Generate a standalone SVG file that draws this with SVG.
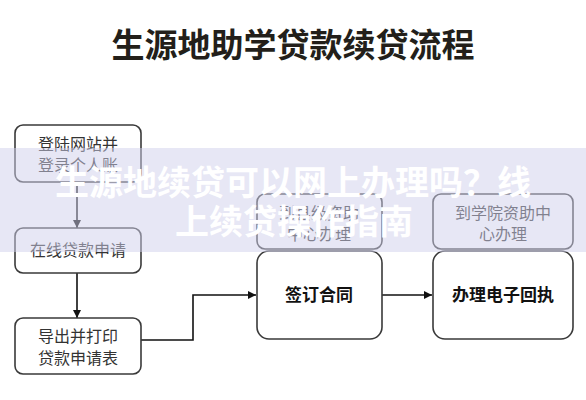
<svg xmlns="http://www.w3.org/2000/svg" width="586" height="400" viewBox="0 0 586 400">
<defs>
<marker id="ah" viewBox="0 0 10 10" refX="10" refY="5" markerWidth="8" markerHeight="8" markerUnits="userSpaceOnUse" orient="auto">
<path d="M0,0 L10,5 L0,10 z" fill="#111"/>
</marker>
<style>
.box{fill:#fff;stroke:#3a3a3a;stroke-width:1.6}
.t{font-family:"Noto Sans CJK SC","Noto Sans",sans-serif;font-size:16px;fill:#333;text-anchor:middle}
.tb{font-family:"Noto Sans CJK SC","Noto Sans",sans-serif;font-size:17px;font-weight:bold;fill:#111;text-anchor:middle}
.ln{fill:none;stroke:#111;stroke-width:1.6}
.ov{font-family:"Noto Sans CJK SC","Noto Sans",sans-serif;font-size:34px;font-weight:bold;fill:#fff;text-anchor:middle}
</style>
</defs>
<rect width="586" height="400" fill="#fff"/>
<text x="293" y="57" font-family="'Noto Sans CJK SC','Noto Sans',sans-serif" font-size="33" font-weight="bold" fill="#231f1a" text-anchor="middle">生源地助学贷款续贷流程</text>

<g id="connectors">
<line class="ln" x1="77" y1="183" x2="77" y2="228" marker-end="url(#ah)"/>
<line class="ln" x1="77" y1="273" x2="77" y2="318" marker-end="url(#ah)"/>
<polyline class="ln" points="141,340 193,340 193,295 256,295" marker-end="url(#ah)"/>
<line class="ln" x1="382" y1="295" x2="432" y2="295" marker-end="url(#ah)"/>
</g>

<g id="n1"><rect class="box" x="15" y="125" width="126" height="57" rx="8"/>
<text class="t" x="78" y="150">登陆网站并</text><text class="t" x="78" y="171">登录个人账</text></g>
<g id="n2"><rect class="box" x="15" y="228" width="126" height="45" rx="8"/>
<text class="t" x="78" y="256">在线贷款申请</text></g>
<g id="n3"><rect class="box" x="15" y="318" width="126" height="56" rx="8"/>
<text class="t" x="78" y="342">导出并打印</text><text class="t" x="78" y="364">贷款申请表</text></g>
<g id="n4"><rect class="box" x="257" y="194" width="125" height="55" rx="8"/>
<text class="t" x="319" y="219">到县级资助</text><text class="t" x="319" y="240">中心办理</text></g>
<g id="n5"><rect class="box" x="433" y="194" width="140" height="55" rx="8"/>
<text class="t" x="503" y="219">到学院资助中</text><text class="t" x="503" y="240">心办理</text></g>
<g id="n6"><rect class="box" x="257" y="251" width="125" height="88" rx="12"/>
<text class="tb" x="319" y="301">签订合同</text></g>
<g id="n7"><rect class="box" x="433" y="251" width="140" height="88" rx="12"/>
<text class="tb" x="503" y="301">办理电子回执</text></g>

<g id="overlay">
<rect x="0" y="148" width="586" height="104" fill="#d0d0ec" opacity="0.5"/>
<text class="ov" x="293" y="195">生源地续贷可以网上办理吗？线</text>
<text class="ov" x="294" y="234">上续贷操作指南</text>
</g>
</svg>
